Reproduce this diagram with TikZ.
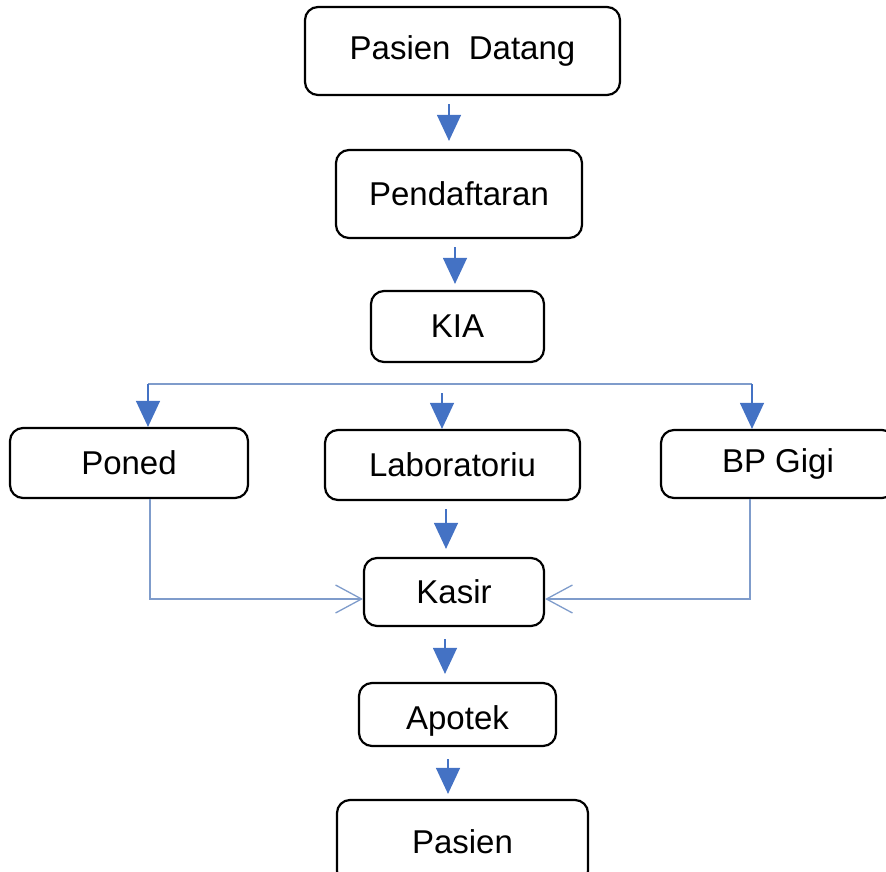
\documentclass[tikz,border=0pt]{standalone}
\usepackage{fontspec}
\setmainfont{Liberation Sans}
\usepackage{tikz}
\usetikzlibrary{arrows.meta, positioning}
\definecolor{ARR}{HTML}{4472C4}
\definecolor{LNK}{HTML}{7F9CCB}
\tikzset{
  BOX/.style={% Style for the process boxes
      rectangle, rounded corners=13pt,
      line width=2.2pt,
      draw=black, fill=white,
      align=center,
      text=black,
      font=\fontsize{33}{38}\selectfont,
  },
  FLOW/.style={% short blue arrow with filled head
      draw=ARR, line width=1.3pt,
      -{Triangle[length=26pt,width=24pt,fill=ARR]},
  },
  LINK/.style={% thin connector line
      draw=LNK, line width=1.4pt,
  },
  OPEN/.style={% connector with open head
      LINK,
      -{Straight Barb[length=26pt,width=28pt,line width=1.3pt]},
  }
}

\begin{document}
\begin{tikzpicture}[x=1pt,y=-1pt]
  \useasboundingbox (0,0) rectangle (886,872);
  \clip (0,0) rectangle (886,872);
  % boxes
  \node[BOX, minimum width=315pt, minimum height=88pt] (datang) at (462.5,51) {Pasien\ \ Datang};
  \node[BOX, minimum width=246pt, minimum height=88pt] (daftar) at (459,194) {Pendaftaran};
  \node[BOX, minimum width=173pt, minimum height=71pt] (kia) at (457.5,326.5) {KIA};
  \node[BOX, minimum width=238pt, minimum height=70pt] (poned) at (129,463) {Poned};
  \node[BOX, minimum width=255pt, minimum height=70pt] (lab) at (452.5,465) {Laboratoriu};
  \node[BOX, minimum width=234pt, minimum height=68pt] (gigi) at (778,464) {BP Gigi};
  \node[BOX, minimum width=180pt, minimum height=68pt] (kasir) at (454,592) {Kasir};
  \node[BOX, minimum width=197pt, minimum height=63pt] (apotek) at (457.5,714.5) {\raisebox{-6pt}[\height][\depth]{Apotek}};
  \node[BOX, minimum width=251pt, minimum height=84pt] (pasien) at (462.5,842) {Pasien};
  % distribution line
  \coordinate (busL) at (148,384);
  \coordinate (busM) at (442,384);
  \coordinate (busR) at (752,384);
  \draw[LINK] (busL) -- (busR);
  % arrows
  \draw[FLOW, shorten <=8pt, shorten >=8pt] ([xshift=-13.5pt]datang.south) -- ([xshift=-10pt]daftar.north);
  \draw[FLOW, shorten <=8pt, shorten >=6pt] ([xshift=-4pt]daftar.south) -- ([xshift=-2.5pt]kia.north);
  \draw[FLOW] (busL) -- ([xshift=19pt]poned.north);
  \draw[FLOW, shorten <=9pt] (busM) -- ([xshift=-10.5pt]lab.north);
  \draw[FLOW] (busR) -- ([xshift=-26pt]gigi.north);
  \draw[FLOW, shorten <=8pt, shorten >=8pt] ([xshift=-6.5pt]lab.south) -- ([xshift=-8pt]kasir.north);
  \draw[FLOW, shorten <=12pt, shorten >=8pt] ([xshift=-9pt]kasir.south) -- ([xshift=-12.5pt]apotek.north);
  \draw[FLOW, shorten <=12pt, shorten >=5pt] ([xshift=-9.5pt]apotek.south) -- ([xshift=-14.5pt]pasien.north);
  \draw[OPEN] ([xshift=21pt]poned.south) |- ([yshift=-7pt]kasir.west);
  \draw[OPEN] ([xshift=-28pt]gigi.south) |- ([yshift=-7pt]kasir.east);
\end{tikzpicture}
\end{document}
